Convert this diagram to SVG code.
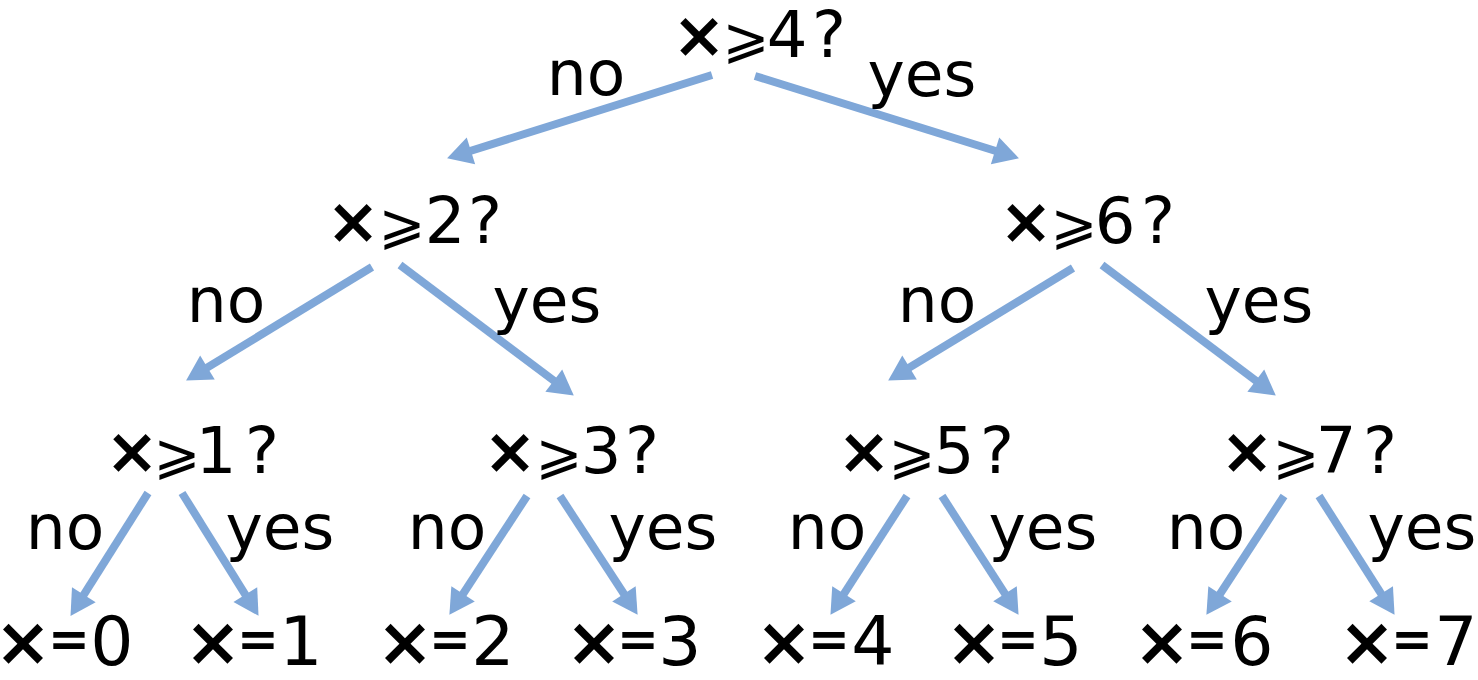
<svg xmlns="http://www.w3.org/2000/svg" width="1478" height="680" viewBox="0 0 1478 680">
<style>
text{font-family:"DejaVu Sans","Noto Sans",sans-serif;fill:#000;text-anchor:middle}
.q{font-size:64px}
.leaf{font-size:68px}
.x{font-weight:bold}
.ge{font-size:56px}
.eq{font-size:50px;font-weight:bold}
.lbl{font-size:63px}
.edge{stroke:#7FA7D8;stroke-width:8;fill:none;marker-end:url(#ah)}
</style>
<defs>
<marker id="ah" markerUnits="userSpaceOnUse" markerWidth="26" markerHeight="30" refX="10" refY="14" orient="auto" overflow="visible">
<path d="M0,0 L25,14 L0,28 z" fill="#7FA7D8"/>
</marker>
</defs>
<rect width="1478" height="680" fill="#fff"/>
<g id="connectors">
<line class="edge" x1="712" y1="75" x2="461.4" y2="153.8"/>
<line class="edge" x1="755" y1="76" x2="1004.6" y2="153.8"/>
<line class="edge" x1="372" y1="267" x2="198.9" y2="372.7"/>
<line class="edge" x1="400" y1="265" x2="561.8" y2="386.6"/>
<line class="edge" x1="1073" y1="268" x2="901" y2="372.7"/>
<line class="edge" x1="1102" y1="265" x2="1263.8" y2="386.6"/>
<line class="edge" x1="148" y1="493" x2="78.5" y2="603.2"/>
<line class="edge" x1="182" y1="493" x2="250.6" y2="603.1"/>
<line class="edge" x1="527" y1="496" x2="457.6" y2="602.3"/>
<line class="edge" x1="560" y1="496" x2="629.4" y2="602.3"/>
<line class="edge" x1="907" y1="496" x2="838.6" y2="602.2"/>
<line class="edge" x1="942" y1="496" x2="1010.4" y2="602.2"/>
<line class="edge" x1="1284" y1="496" x2="1214.6" y2="602.3"/>
<line class="edge" x1="1319" y1="496" x2="1386.5" y2="602.2"/>
<g id="edge-labels" class="lbl">
<text x="586" y="95">no</text>
<text x="922" y="96">yes</text>
<text x="226" y="322">no</text>
<text x="547" y="322">yes</text>
<text x="937" y="322">no</text>
<text x="1259" y="322">yes</text>
<text x="65" y="549">no</text>
<text x="280" y="549">yes</text>
<text x="447" y="549">no</text>
<text x="663" y="549">yes</text>
<text x="827" y="549">no</text>
<text x="1043" y="549">yes</text>
<text x="1206" y="549">no</text>
<text x="1422" y="549">yes</text>
</g>
</g>
<g id="n-ge4"><text class="q" y="57"><tspan class="x" x="699">×</tspan><tspan class="ge" x="746">⩾</tspan><tspan x="787">4</tspan><tspan x="829">?</tspan></text></g>
<g id="n-ge2"><text class="q" y="243"><tspan class="x" x="353">×</tspan><tspan class="ge" x="402">⩾</tspan><tspan x="445">2</tspan><tspan x="485">?</tspan></text></g>
<g id="n-ge6"><text class="q" y="243"><tspan class="x" x="1026">×</tspan><tspan class="ge" x="1074">⩾</tspan><tspan x="1115">6</tspan><tspan x="1158">?</tspan></text></g>
<g id="n-ge1"><text class="q" y="473"><tspan class="x" x="132">×</tspan><tspan class="ge" x="177">⩾</tspan><tspan x="216">1</tspan><tspan x="262">?</tspan></text></g>
<g id="n-ge3"><text class="q" y="473"><tspan class="x" x="510">×</tspan><tspan class="ge" x="559">⩾</tspan><tspan x="601">3</tspan><tspan x="642">?</tspan></text></g>
<g id="n-ge5"><text class="q" y="473"><tspan class="x" x="864">×</tspan><tspan class="ge" x="912">⩾</tspan><tspan x="954">5</tspan><tspan x="997">?</tspan></text></g>
<g id="n-ge7"><text class="q" y="473"><tspan class="x" x="1247">×</tspan><tspan class="ge" x="1296">⩾</tspan><tspan x="1336">7</tspan><tspan x="1380">?</tspan></text></g>
<g id="leaf-0"><text class="leaf"><tspan class="x" x="23" y="665">×</tspan><tspan class="eq" x="69" y="656">=</tspan><tspan x="112" y="665">0</tspan></text></g>
<g id="leaf-1"><text class="leaf"><tspan class="x" x="213" y="665">×</tspan><tspan class="eq" x="258" y="656">=</tspan><tspan x="301" y="665">1</tspan></text></g>
<g id="leaf-2"><text class="leaf"><tspan class="x" x="405" y="665">×</tspan><tspan class="eq" x="450" y="656">=</tspan><tspan x="493" y="665">2</tspan></text></g>
<g id="leaf-3"><text class="leaf"><tspan class="x" x="594" y="665">×</tspan><tspan class="eq" x="638" y="656">=</tspan><tspan x="680" y="665">3</tspan></text></g>
<g id="leaf-4"><text class="leaf"><tspan class="x" x="784" y="665">×</tspan><tspan class="eq" x="829" y="656">=</tspan><tspan x="873" y="665">4</tspan></text></g>
<g id="leaf-5"><text class="leaf"><tspan class="x" x="974" y="665">×</tspan><tspan class="eq" x="1018" y="656">=</tspan><tspan x="1061" y="665">5</tspan></text></g>
<g id="leaf-6"><text class="leaf"><tspan class="x" x="1162" y="665">×</tspan><tspan class="eq" x="1207" y="656">=</tspan><tspan x="1252" y="665">6</tspan></text></g>
<g id="leaf-7"><text class="leaf"><tspan class="x" x="1367" y="665">×</tspan><tspan class="eq" x="1412" y="656">=</tspan><tspan x="1456" y="665">7</tspan></text></g>
</svg>
